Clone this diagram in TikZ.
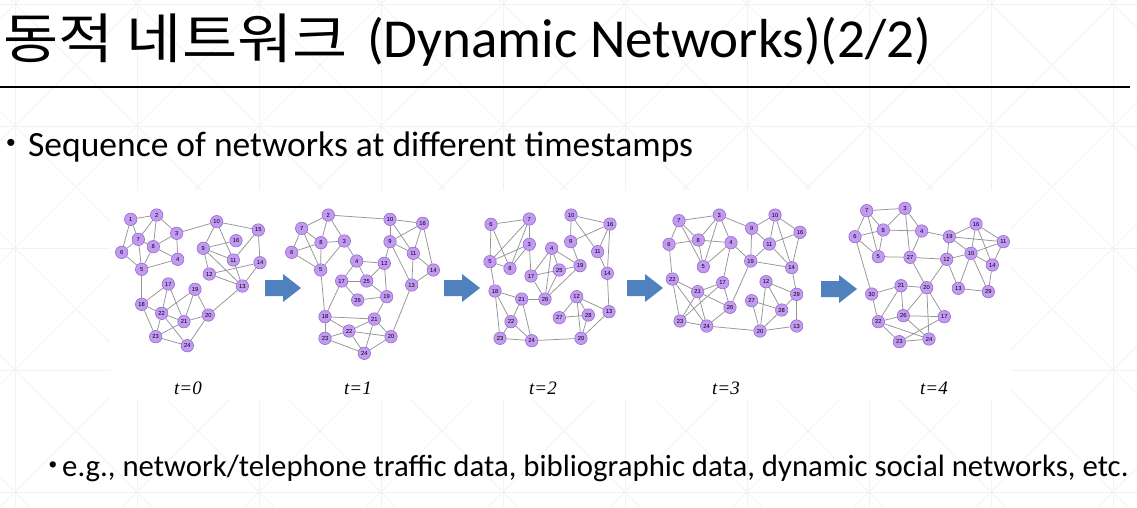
\documentclass[tikz,border=0pt]{standalone}
\usepackage{fontspec}
\setmainfont{Carlito}
\newfontfamily\korfont{Noto Sans CJK KR}
\newfontfamily\serifit{Liberation Serif}
\newfontfamily\numfont{Liberation Sans}
\definecolor{vfill}{RGB}{194,154,242}
\definecolor{vline}{RGB}{140,95,200}
\definecolor{arrowblue}{RGB}{79,129,189}
\definecolor{gridgray}{RGB}{242,242,242}

\begin{document}
\begin{tikzpicture}[x=1pt, y=-1pt,
    vtx/.style = {draw=vline, fill=vfill, circle, minimum size=12.5pt, inner sep=0pt, line width=0.5pt, font=\numfont\fontsize{5.8}{6}\selectfont},
    edge/.style = {draw=black!42, line width=0.75pt},
    stepper/.style = {fill=arrowblue},
    tlabel/.style = {font=\serifit\itshape\fontsize{19}{20}\selectfont, anchor=base, inner sep=0pt},
    gridline/.style = {draw=gridgray, line width=1pt},
    txt/.style = {anchor=base west, inner sep=0pt},
    bullet/.style = {anchor=center, inner sep=0pt, font=\numfont\fontsize{26}{28}\selectfont}]
    \useasboundingbox (0,0) rectangle (1137,507);
    % faint background lattice
    \begin{scope}
        \clip (0,0) rectangle (1137,507);
        \foreach \k in {0,...,9} \draw[gridline] ({15+122*\k},0) -- ++(0,507);
        \foreach \k in {0,...,4} \draw[gridline] (0,{4+122*\k}) -- ++(1137,0);
        \foreach \k in {-5,...,10} \draw[gridline] ({-111+122*\k},0) -- ++(507,507);
        \foreach \k in {-1,...,13} \draw[gridline] ({141+122*\k},0) -- ++(-507,507);
    \end{scope}
    \fill[white] (110,190) rectangle (1011,400);

    % title and text
    \node[txt, font=\korfont\fontsize{54}{60}\selectfont] (kor) at (3,58) {\scalebox{1.11}[1]{동적 네트워크}};
    \node[txt, font=\fontsize{55}{60}\selectfont] (eng) at (367,57) {(Dynamic Networks)(2/2)};
    \draw[line width=2pt] (0,87) -- (1130,87);
    \node[bullet] (dot1) at (11,145) {•};
    \node[txt, font=\fontsize{35.5}{40}\selectfont] (seq) at (28,156) {Sequence of networks at different timestamps};
    \node[bullet, font=\numfont\fontsize{23}{24}\selectfont] (dot2) at (53,467) {•};
    \node[txt, font=\fontsize{30.8}{34}\selectfont] (eg) at (62,476) {e.g., network/telephone traffic data, bibliographic data, dynamic social networks, etc.};

    % t=0
    \foreach \n/\x/\y in {1/130.7/219.3, 2/156.7/215, 3/176.7/233.3, 4/177.7/259.3, 5/141.7/269.3, 6/121.7/252.3,
        7/138.3/239.3, 8/153.3/246.7, 9/203.3/248.3, 10/216.7/221.7, 11/233.3/260, 12/209.3/274, 13/242.3/286,
        14/260/262.7, 15/258.3/230, 16/236/240.7, 17/168.3/284, 18/141.7/304.3, 19/195/289.3, 20/208.3/315,
        21/184/321.7, 22/161.7/313.3, 23/155.7/336.7, 24/187.3/345.7}
        \node[vtx] (a\n) at (\x,\y) {\n};
    \foreach \u/\v in {1/2, 1/6, 1/7, 2/7, 2/8, 2/3, 7/8, 7/5, 6/7, 6/5, 8/3, 8/4, 8/5, 3/4, 4/5, 3/10, 5/18,
        10/9, 10/11, 10/15, 9/16, 9/11, 9/12, 9/13, 15/14, 15/11, 14/12, 14/13, 11/13, 12/13, 13/20, 17/18,
        17/22, 17/21, 19/22, 19/21, 19/20, 18/22, 18/23, 22/21, 22/23, 22/24, 21/20, 21/23, 23/24, 24/20}
        \draw[edge] (a\u) -- (a\v);

    % t=1
    \foreach \n/\x/\y in {2/328.3/215, 7/301.7/228.3, 8/321/242.7, 3/344.3/241, 6/291.7/252.3, 5/320.7/270,
        4/356.7/261, 12/384.3/263.3, 17/341.7/281, 25/366.7/281, 26/357.7/300, 19/386.7/296.7, 10/390/219.3,
        16/422.7/223.3, 9/390/241.7, 11/413.3/253.3, 14/433.3/270, 13/411.7/285, 18/325/316.7, 21/374.3/319,
        22/349/331, 23/325/338.3, 20/391/336.7, 24/364.3/353.3}
        \node[vtx] (b\n) at (\x,\y) {\n};
    \foreach \u/\v in {2/7, 2/8, 2/3, 2/10, 7/8, 7/5, 7/6, 6/8, 6/5, 8/5, 8/3, 3/5, 3/4, 4/12, 4/17, 4/25,
        12/25, 12/19, 12/9, 17/25, 17/26, 17/18, 25/19, 26/19, 10/9, 10/16, 10/11, 9/16, 9/11, 9/13, 16/11,
        16/14, 11/13, 11/14, 14/13, 13/20, 19/21, 18/21, 18/22, 18/23, 21/22, 21/24, 21/20, 22/23, 22/24,
        22/20, 23/24, 24/20, 5/18}
        \draw[edge] (b\u) -- (b\v);

    % t=2
    \foreach \n/\x/\y in {6/491/224.3, 7/529.3/219, 3/529.3/244.3, 5/490/261.7, 8/510/268.3, 4/551.7/248.3,
        25/559.3/270, 17/531/276, 19/580/265.7, 26/545/299, 10/571/215, 16/610/224, 9/570.7/241.7,
        11/597.7/251.7, 14/607.3/273.3, 13/609/311.7, 12/576.7/296.7, 28/588.3/315, 27/559.3/317.7,
        20/581/338.3, 18/495/291, 21/521.7/299, 22/511/321.7, 23/500/338.3, 24/531.7/340.7}
        \node[vtx] (c\n) at (\x,\y) {\n};
    \foreach \u/\v in {6/7, 6/5, 6/8, 7/3, 7/5, 7/8, 3/5, 3/8, 3/17, 5/8, 5/18, 4/17, 4/25, 4/26, 4/19,
        25/17, 25/19, 25/26, 17/26, 19/26, 19/9, 10/9, 10/16, 10/11, 9/16, 16/11, 16/14, 11/14, 14/13,
        12/13, 12/27, 12/28, 12/20, 27/28, 28/20, 13/20, 18/21, 18/22, 18/23, 21/26, 21/22, 21/24,
        22/23, 22/24, 23/24, 24/20}
        \draw[edge] (c\u) -- (c\v);

    % t=3
    \foreach \n/\x/\y in {7/679/220.7, 3/719.3/215, 8/698.3/240, 6/669/244.3, 4/731/242.7, 5/703.3/266.7,
        9/751.7/228.3, 10/775/215, 16/800/232.3, 11/769.3/244, 19/750.7/261, 14/791.7/267.7, 22/672.3/279,
        21/697.7/291.7, 17/722.7/282.7, 26/730/307.3, 23/680/321, 24/706.7/326, 12/766/281.7,
        27/751.7/300.7, 29/796.7/294.3, 28/781.7/310, 20/760/331, 13/796.7/326}
        \node[vtx] (d\n) at (\x,\y) {\n};
    \foreach \u/\v in {7/3, 7/6, 7/8, 7/5, 3/8, 3/5, 3/4, 3/9, 8/4, 8/5, 6/8, 6/22, 4/5, 4/19, 4/17,
        9/19, 9/11, 9/10, 10/11, 10/16, 10/14, 16/11, 16/14, 11/19, 11/14, 19/14, 19/26, 14/29, 22/21,
        22/24, 22/23, 21/17, 21/24, 21/23, 21/26, 17/23, 17/26, 26/24, 23/24, 24/20, 12/20, 12/28,
        12/29, 27/28, 27/20, 28/20, 29/13, 29/28, 13/20}
        \draw[edge] (d\u) -- (d\v);

    % t=4
    \foreach \n/\x/\y in {7/866.7/210.7, 3/905/208.3, 8/883.3/230, 6/855/236.7, 4/921.7/231, 5/878.3/256.7,
        27/910/257.3, 19/949.3/236.7, 16/976/224, 11/1003.3/241.7, 10/971/253.3, 12/946.7/259.3,
        14/992.3/265, 13/958.3/288.3, 29/988.3/291.7, 30/871.7/294, 21/901/285.7, 20/926.7/287.7,
        26/903.3/315.7, 17/944.3/316.7, 22/878.3/321.7, 23/899.3/341.7, 24/929/339}
        \node[vtx] (e\n) at (\x,\y) {\n};
    \foreach \u/\v in {7/3, 7/6, 7/8, 7/5, 3/8, 3/4, 3/27, 8/6, 8/5, 8/4, 6/5, 6/30, 4/27, 4/19, 5/27,
        27/12, 27/20, 19/16, 19/11, 19/12, 19/10, 16/10, 16/11, 16/14, 11/10, 11/14, 10/12, 10/14, 10/13,
        10/29, 12/13, 12/20, 13/29, 14/29, 30/21, 30/22, 21/20, 21/26, 21/22, 20/26, 20/17, 20/24, 26/17,
        26/22, 26/24, 22/24, 22/23, 23/24, 17/23}
        \draw[edge] (e\u) -- (e\v);

    % arrows between the snapshots
    \foreach \ax/\ay in {265/288, 444/288, 627/288, 821/289}
        \fill[stepper] (\ax,\ay-8) -- ++(18,0) -- ++(0,-6) -- ++(18,14) -- ++(-18,14) -- ++(0,-6) -- ++(-18,0) -- cycle;

    % time labels
    \node[tlabel] (t0) at (188,394) {t=0};
    \node[tlabel] (t1) at (358,394) {t=1};
    \node[tlabel] (t2) at (543,394) {t=2};
    \node[tlabel] (t3) at (726,394) {t=3};
    \node[tlabel] (t4) at (934,394) {t=4};
\end{tikzpicture}
\end{document}
